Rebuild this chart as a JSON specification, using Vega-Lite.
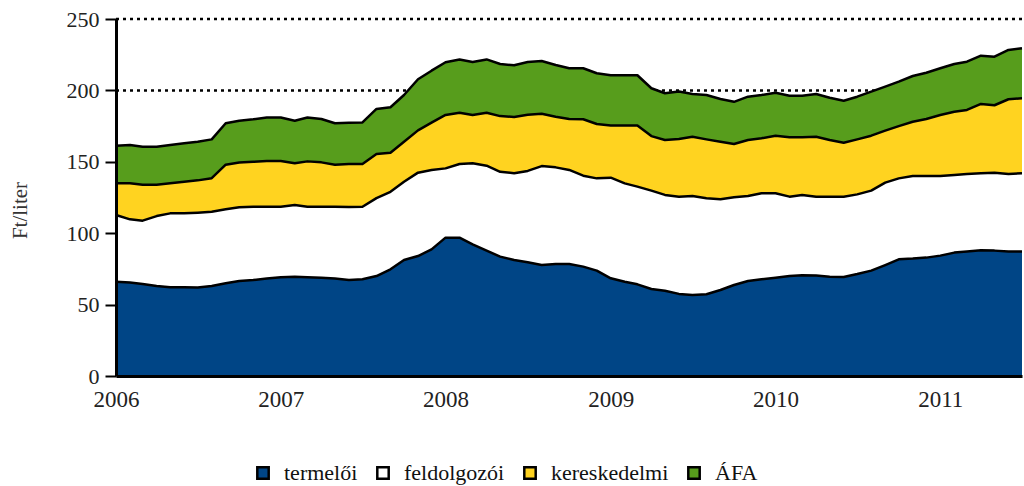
{
  "$schema": "https://vega.github.io/schema/vega-lite/v6.json",
  "width": 906,
  "height": 357,
  "autosize": {"type": "none"},
  "padding": {"left": 116, "top": 19, "right": 2, "bottom": 110},
  "background": "white",
  "config": {
    "view": {"stroke": null},
    "font": "Liberation Serif"
  },
  "data": {
    "values": [
      {"d": "2006-01-01", "termelői": 66.0, "feldolgozói": 46.7, "kereskedelmi": 22.3, "ÁFA": 26.3},
      {"d": "2006-02-01", "termelői": 65.4, "feldolgozói": 44.3, "kereskedelmi": 25.3, "ÁFA": 26.8},
      {"d": "2006-03-01", "termelői": 64.4, "feldolgozói": 44.4, "kereskedelmi": 25.2, "ÁFA": 26.6},
      {"d": "2006-04-01", "termelői": 63.0, "feldolgozói": 49.0, "kereskedelmi": 22.0, "ÁFA": 26.6},
      {"d": "2006-05-01", "termelői": 62.1, "feldolgozói": 51.8, "kereskedelmi": 21.1, "ÁFA": 26.8},
      {"d": "2006-06-01", "termelői": 62.1, "feldolgozói": 51.8, "kereskedelmi": 22.1, "ÁFA": 27.0},
      {"d": "2006-07-01", "termelői": 61.9, "feldolgozói": 52.5, "kereskedelmi": 22.6, "ÁFA": 27.0},
      {"d": "2006-08-01", "termelői": 63.0, "feldolgozói": 52.0, "kereskedelmi": 23.5, "ÁFA": 27.2},
      {"d": "2006-09-01", "termelői": 64.9, "feldolgozói": 51.8, "kereskedelmi": 31.3, "ÁFA": 29.0},
      {"d": "2006-10-01", "termelői": 66.5, "feldolgozói": 51.6, "kereskedelmi": 31.4, "ÁFA": 29.3},
      {"d": "2006-11-01", "termelői": 67.2, "feldolgozói": 51.4, "kereskedelmi": 31.4, "ÁFA": 29.8},
      {"d": "2006-12-01", "termelői": 68.2, "feldolgozói": 50.4, "kereskedelmi": 31.9, "ÁFA": 30.5},
      {"d": "2007-01-01", "termelői": 69.1, "feldolgozói": 49.5, "kereskedelmi": 31.9, "ÁFA": 30.5},
      {"d": "2007-02-01", "termelői": 69.5, "feldolgozói": 50.2, "kereskedelmi": 29.3, "ÁFA": 29.8},
      {"d": "2007-03-01", "termelői": 69.1, "feldolgozói": 49.5, "kereskedelmi": 31.7, "ÁFA": 30.7},
      {"d": "2007-04-01", "termelői": 68.8, "feldolgozói": 49.8, "kereskedelmi": 31.0, "ÁFA": 30.4},
      {"d": "2007-05-01", "termelői": 68.2, "feldolgozói": 50.4, "kereskedelmi": 29.4, "ÁFA": 29.0},
      {"d": "2007-06-01", "termelői": 67.2, "feldolgozói": 51.1, "kereskedelmi": 30.2, "ÁFA": 28.9},
      {"d": "2007-07-01", "termelői": 67.7, "feldolgozói": 50.8, "kereskedelmi": 30.0, "ÁFA": 29.1},
      {"d": "2007-08-01", "termelői": 70.0, "feldolgozói": 54.6, "kereskedelmi": 30.9, "ÁFA": 31.5},
      {"d": "2007-09-01", "termelői": 74.7, "feldolgozói": 54.3, "kereskedelmi": 27.4, "ÁFA": 31.8},
      {"d": "2007-10-01", "termelői": 81.2, "feldolgozói": 54.8, "kereskedelmi": 28.0, "ÁFA": 32.8},
      {"d": "2007-11-01", "termelői": 84.0, "feldolgozói": 58.4, "kereskedelmi": 29.6, "ÁFA": 35.8},
      {"d": "2007-12-01", "termelői": 88.7, "feldolgozói": 55.6, "kereskedelmi": 33.1, "ÁFA": 36.4},
      {"d": "2008-01-01", "termelői": 96.9, "feldolgozói": 48.5, "kereskedelmi": 37.4, "ÁFA": 36.9},
      {"d": "2008-02-01", "termelői": 96.9, "feldolgozói": 51.6, "kereskedelmi": 35.9, "ÁFA": 37.3},
      {"d": "2008-03-01", "termelői": 92.2, "feldolgozói": 56.8, "kereskedelmi": 33.8, "ÁFA": 37.1},
      {"d": "2008-04-01", "termelői": 87.8, "feldolgozói": 59.5, "kereskedelmi": 37.1, "ÁFA": 37.3},
      {"d": "2008-05-01", "termelői": 83.6, "feldolgozói": 59.4, "kereskedelmi": 39.0, "ÁFA": 36.5},
      {"d": "2008-06-01", "termelői": 81.2, "feldolgozói": 60.8, "kereskedelmi": 39.4, "ÁFA": 36.2},
      {"d": "2008-07-01", "termelői": 79.6, "feldolgozói": 64.0, "kereskedelmi": 39.4, "ÁFA": 36.9},
      {"d": "2008-08-01", "termelői": 77.7, "feldolgozói": 69.3, "kereskedelmi": 36.7, "ÁFA": 36.9},
      {"d": "2008-09-01", "termelői": 78.4, "feldolgozói": 67.7, "kereskedelmi": 35.5, "ÁFA": 36.2},
      {"d": "2008-10-01", "termelői": 78.4, "feldolgozói": 65.9, "kereskedelmi": 35.7, "ÁFA": 35.5},
      {"d": "2008-11-01", "termelői": 76.6, "feldolgozói": 63.7, "kereskedelmi": 39.5, "ÁFA": 35.7},
      {"d": "2008-12-01", "termelői": 73.8, "feldolgozói": 64.6, "kereskedelmi": 38.1, "ÁFA": 35.5},
      {"d": "2009-01-01", "termelői": 68.4, "feldolgozói": 70.5, "kereskedelmi": 36.6, "ÁFA": 35.1},
      {"d": "2009-02-01", "termelői": 66.0, "feldolgozói": 68.9, "kereskedelmi": 40.6, "ÁFA": 35.1},
      {"d": "2009-03-01", "termelői": 64.2, "feldolgozói": 68.4, "kereskedelmi": 42.9, "ÁFA": 35.1},
      {"d": "2009-04-01", "termelői": 60.9, "feldolgozói": 68.9, "kereskedelmi": 38.2, "ÁFA": 33.5},
      {"d": "2009-05-01", "termelői": 59.7, "feldolgozói": 67.1, "kereskedelmi": 38.5, "ÁFA": 32.7},
      {"d": "2009-06-01", "termelői": 57.5, "feldolgozói": 68.1, "kereskedelmi": 40.4, "ÁFA": 33.3},
      {"d": "2009-07-01", "termelői": 56.7, "feldolgozói": 69.3, "kereskedelmi": 41.6, "ÁFA": 29.9},
      {"d": "2009-08-01", "termelői": 57.2, "feldolgozói": 67.2, "kereskedelmi": 41.3, "ÁFA": 31.1},
      {"d": "2009-09-01", "termelői": 60.2, "feldolgozói": 63.5, "kereskedelmi": 40.3, "ÁFA": 30.0},
      {"d": "2009-10-01", "termelői": 63.7, "feldolgozói": 61.4, "kereskedelmi": 37.4, "ÁFA": 29.5},
      {"d": "2009-11-01", "termelői": 66.5, "feldolgozói": 59.5, "kereskedelmi": 39.3, "ÁFA": 30.3},
      {"d": "2009-12-01", "termelői": 67.7, "feldolgozói": 60.3, "kereskedelmi": 38.5, "ÁFA": 30.3},
      {"d": "2010-01-01", "termelői": 68.8, "feldolgozói": 59.2, "kereskedelmi": 40.3, "ÁFA": 30.1},
      {"d": "2010-02-01", "termelői": 70.0, "feldolgozói": 55.6, "kereskedelmi": 41.6, "ÁFA": 29.1},
      {"d": "2010-03-01", "termelői": 70.5, "feldolgozói": 56.3, "kereskedelmi": 40.4, "ÁFA": 29.1},
      {"d": "2010-04-01", "termelői": 70.4, "feldolgozói": 55.2, "kereskedelmi": 42.0, "ÁFA": 29.9},
      {"d": "2010-05-01", "termelői": 69.5, "feldolgozói": 56.1, "kereskedelmi": 39.7, "ÁFA": 29.6},
      {"d": "2010-06-01", "termelői": 69.3, "feldolgozói": 56.3, "kereskedelmi": 37.8, "ÁFA": 29.4},
      {"d": "2010-07-01", "termelői": 71.4, "feldolgozói": 55.8, "kereskedelmi": 38.5, "ÁFA": 29.9},
      {"d": "2010-08-01", "termelői": 73.8, "feldolgozói": 56.0, "kereskedelmi": 38.5, "ÁFA": 30.8},
      {"d": "2010-09-01", "termelői": 77.7, "feldolgozói": 57.7, "kereskedelmi": 36.4, "ÁFA": 30.8},
      {"d": "2010-10-01", "termelői": 81.7, "feldolgozói": 56.7, "kereskedelmi": 36.6, "ÁFA": 31.1},
      {"d": "2010-11-01", "termelői": 82.2, "feldolgozói": 57.8, "kereskedelmi": 38.0, "ÁFA": 32.1},
      {"d": "2010-12-01", "termelői": 82.9, "feldolgozói": 57.1, "kereskedelmi": 40.0, "ÁFA": 32.4},
      {"d": "2011-01-01", "termelői": 84.3, "feldolgozói": 55.7, "kereskedelmi": 42.8, "ÁFA": 32.7},
      {"d": "2011-02-01", "termelői": 86.4, "feldolgozói": 54.4, "kereskedelmi": 44.2, "ÁFA": 33.5},
      {"d": "2011-03-01", "termelői": 87.1, "feldolgozói": 54.4, "kereskedelmi": 44.8, "ÁFA": 33.8},
      {"d": "2011-04-01", "termelői": 88.0, "feldolgozói": 54.0, "kereskedelmi": 48.5, "ÁFA": 33.8},
      {"d": "2011-05-01", "termelői": 87.8, "feldolgozói": 54.6, "kereskedelmi": 47.2, "ÁFA": 34.0},
      {"d": "2011-06-01", "termelői": 87.1, "feldolgozói": 54.4, "kereskedelmi": 52.3, "ÁFA": 34.5},
      {"d": "2011-07-01", "termelői": 87.1, "feldolgozói": 54.9, "kereskedelmi": 52.5, "ÁFA": 35.0}
    ]
  },
  "transform": [
    {"fold": ["termelői", "feldolgozói", "kereskedelmi", "ÁFA"], "as": ["series", "value"]},
    {
      "lookup": "series",
      "from": {
        "data": {"values": [
          {"series": "termelői", "rank": 1},
          {"series": "feldolgozói", "rank": 2},
          {"series": "kereskedelmi", "rank": 3},
          {"series": "ÁFA", "rank": 4}
        ]},
        "key": "series",
        "fields": ["rank"]
      }
    }
  ],
  "layer": [
    {
      "data": {"values": [{"g": 50}, {"g": 100}, {"g": 150}, {"g": 200}, {"g": 250}]},
      "transform": [],
      "mark": {"type": "rule", "color": "black", "strokeWidth": 2.5, "strokeDash": [3, 4]},
      "encoding": {
        "y": {"field": "g", "type": "quantitative"}
      }
    },
    {
      "mark": {"type": "area", "interpolate": "linear", "opacity": 1},
      "encoding": {
        "x": {
          "field": "d",
          "type": "temporal",
          "scale": {"type": "utc", "domain": ["2006-01-01", "2011-07-01"], "nice": false},
          "axis": {
            "title": null,
            "format": "%Y",
            "formatType": "utc",
            "tickCount": {"interval": "year", "step": 1},
            "ticks": false,
            "grid": false,
            "zindex": 1,
            "domainColor": "black",
            "domainWidth": 3,
            "labelFont": "Liberation Serif",
            "labelFontSize": 23,
            "labelColor": "#222",
            "labelPadding": 12,
            "labelFlush": false,
            "labelAlign": "center"
          }
        },
        "y": {
          "field": "value",
          "type": "quantitative",
          "stack": "zero",
          "scale": {"domain": [0, 250], "nice": false},
          "axis": {
            "title": "Ft/liter",
            "titleFont": "Liberation Serif",
            "titleFontSize": 21,
            "titleFontWeight": "normal",
            "titleColor": "#333",
            "titleX": -96,
            "titleY": 191,
            "titleAngle": 270,
            "titleAlign": "center",
            "titleBaseline": "middle",
            "values": [0, 50, 100, 150, 200, 250],
            "zindex": 1,
            "grid": false,
            "domainColor": "black",
            "domainWidth": 3,
            "tickColor": "black",
            "tickWidth": 2,
            "tickSize": 11,
            "labelFont": "Liberation Serif",
            "labelFontSize": 22,
            "labelColor": "#222",
            "labelPadding": 6
          }
        },
        "order": {"field": "rank", "type": "quantitative"},
        "color": {
          "field": "series",
          "type": "nominal",
          "scale": {
            "domain": ["termelői", "feldolgozói", "kereskedelmi", "ÁFA"],
            "range": ["#004586", "#ffffff", "#ffd320", "#579d1c"]
          },
          "legend": {
            "title": null,
            "orient": "none",
            "direction": "horizontal",
            "legendX": 136,
            "legendY": 443,
            "symbolType": "square",
            "symbolSize": 130,
            "symbolStrokeColor": "black",
            "symbolStrokeWidth": 2.5,
            "symbolOpacity": 1,
            "labelFont": "Liberation Serif",
            "labelFontSize": 22,
            "labelColor": "#111",
            "labelOffset": 10,
            "columnPadding": 14,
            "encode": {
              "symbols": {"update": {"stroke": {"value": "black"}, "strokeWidth": {"value": 2.5}, "opacity": {"value": 1}}}
            }
          }
        }
      }
    },
    {
      "mark": {"type": "line", "interpolate": "linear", "color": "black", "strokeWidth": 2.5, "strokeJoin": "round"},
      "encoding": {
        "x": {"field": "d", "type": "temporal"},
        "y": {"field": "value", "type": "quantitative", "stack": "zero"},
        "order": {"field": "rank", "type": "quantitative"},
        "detail": {"field": "series", "type": "nominal"}
      }
    }
  ]
}
